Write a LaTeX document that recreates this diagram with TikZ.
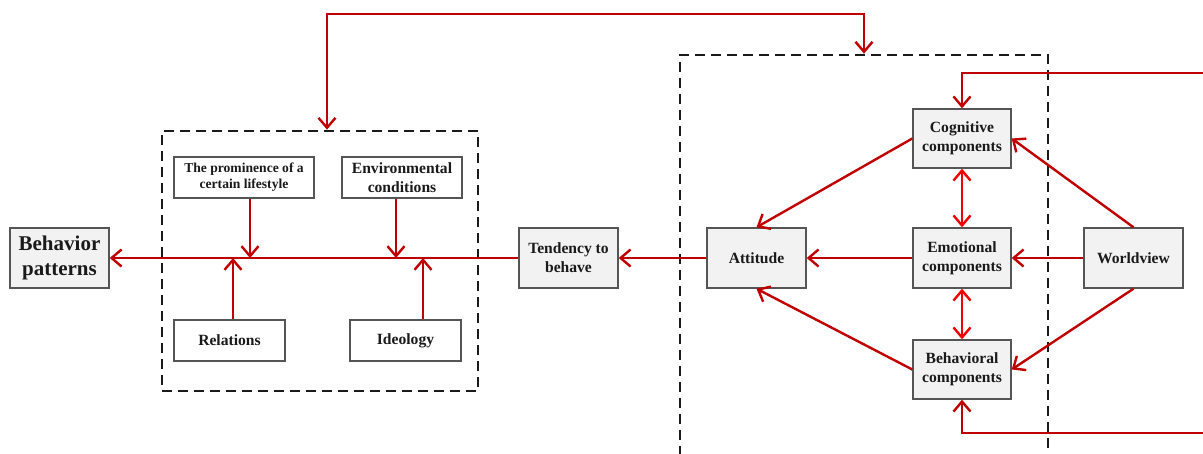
\documentclass[tikz,border=0pt]{standalone}
\usepackage{fontspec}
\setmainfont{Liberation Serif}
\usetikzlibrary{arrows.meta}
\definecolor{linered}{HTML}{C00000}
\definecolor{brightred}{HTML}{F00000}
\definecolor{boxgray}{HTML}{555555}
\definecolor{boxfill}{HTML}{F2F2F2}
\definecolor{textblack}{HTML}{1A1A1A}
\begin{document}
\begin{tikzpicture}[x=1pt,y=-1pt,
  base/.style={draw=boxgray, line width=1.4pt, inner sep=0pt, text=textblack, align=center,
    font=\fontsize{15.6}{18.8}\selectfont\bfseries},
  gbox/.style={base, fill=boxfill},
  wbox/.style={base, fill=white},
  group/.style={draw=textblack, line width=2.7pt, dash pattern=on 10pt off 6pt, inner sep=0pt},
  arr/.style={draw=linered, line width=2.4pt, -{Straight Barb[length=10pt,width=17pt]}},
  darr/.style={draw=brightred, line width=2.4pt,
    {Straight Barb[length=10pt,width=17pt]}-{Straight Barb[length=10pt,width=17pt]}}
]
\clip (0,0) rectangle (1203,453);

% dashed group frames
\node[group, minimum width=316, minimum height=260] (lbox) at (320,261) {};
\node[group, minimum width=368, minimum height=425] (rbox) at (864,267.5) {};

% left group: external factors
\node[gbox, minimum width=99, minimum height=60,
  font=\fontsize{21}{25.5}\selectfont\bfseries] (beh) at (59.5,258) {Behavior\\patterns};
\node[wbox, minimum width=140, minimum height=41,
  font=\fontsize{13.6}{16.3}\selectfont\bfseries] (prom) at (244,177.5) {The prominence of a\\certain lifestyle};
\node[wbox, minimum width=120, minimum height=41] (env) at (402,177.5) {Environmental\\conditions};
\node[wbox, minimum width=111, minimum height=41] (rel) at (229.5,340.5) {Relations};
\node[wbox, minimum width=111, minimum height=41] (ideo) at (405.5,340.5) {Ideology};
\node[gbox, minimum width=99, minimum height=60] (tend) at (568.5,258) {Tendency to\\behave};

% right group: attitude components
\node[gbox, minimum width=99, minimum height=60] (att) at (756.5,258) {Attitude};
\node[gbox, minimum width=98, minimum height=59] (cog) at (962,138.5) {Cognitive\\components};
\node[gbox, minimum width=98, minimum height=60] (emo) at (962,258) {Emotional\\components};
\node[gbox, minimum width=98, minimum height=59] (behc) at (962,369.5) {Behavioral\\components};
\node[gbox, minimum width=99, minimum height=60] (wv) at (1133.5,258) {Worldview};

% junctions on the main line
\coordinate (j1) at (250,258);
\coordinate (j2) at (233,258);
\coordinate (j3) at (396,258);
\coordinate (j4) at (423,258);

% main flow
\draw[arr] (tend.west) -- (beh.east);
\draw[arr] (prom.south -| j1) -- (j1);
\draw[arr] (rel.north -| j2) -- (j2);
\draw[arr] (env.south -| j3) -- (j3);
\draw[arr] (ideo.north -| j4) -- (j4);
\draw[arr] (att.west) -- (tend.east);

% attitude components
\draw[arr] (emo.west) -- (att.east);
\draw[arr] (cog.west) -- (att.north);
\draw[arr] (behc.west) -- (att.south);
\draw[arr] (wv.west) -- (emo.east);
\draw[arr] (wv.north) -- (cog.east);
\draw[arr] (wv.south) -- (behc.east);
\draw[darr] (cog.south) -- (emo.north);
\draw[darr] (emo.south) -- (behc.north);

% feedback loops
\coordinate (fbT) at (1215,73);
\coordinate (fbB) at (1215,433);
\draw[arr] (fbT) -| (cog.north);
\draw[arr] (fbB) -| (behc.south);
\coordinate (loopL) at (327,14);
\draw[darr, draw=linered] (lbox.north -| loopL) -- (loopL) -| (rbox.north);
\end{tikzpicture}
\end{document}
